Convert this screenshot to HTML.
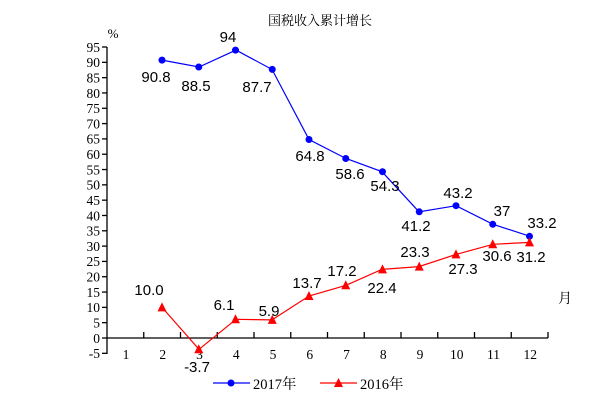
<!DOCTYPE html>
<html><head><meta charset="utf-8"><style>body{margin:0;background:#fff}</style></head><body>
<svg width="600" height="412" xmlns="http://www.w3.org/2000/svg" font-family="Liberation Serif, 'Noto Serif CJK SC', serif">
<text x="320" y="25" font-size="13" text-anchor="middle" font-family="'Noto Serif CJK SC', serif">国税收入累计增长</text>
<text x="113" y="38" font-size="13" text-anchor="middle">%</text>
<g stroke="#000" stroke-width="1.3">
<line x1="107" y1="47" x2="107" y2="354"/>
<line x1="107" y1="338" x2="548" y2="338"/>
<g id="yt"></g>
</g>
<g font-size="13.5" text-anchor="end" id="yl"></g>
<g font-size="13.5" text-anchor="middle" id="xl"></g>
<text x="565" y="303" font-size="14" text-anchor="middle" font-family="'Noto Serif CJK SC', serif">月</text>
<polyline fill="none" stroke="#00f" stroke-width="1.2" points="162,60.1 199,67.0 236,50.1 272,69.4 309,139.5 346,158.5 382,171.7 419,211.8 456,205.7 493,224.3 530,236.3"/>
<polyline fill="none" stroke="#f00" stroke-width="1.2" points="162,307.4 199,349.3 236,319.3 272,319.9 309,296.0 346,285.3 382,269.4 419,266.6 456,254.4 493,244.3 530,242.4"/>
<g fill="#00f" id="bd"></g>
<g fill="#f00" id="rd"></g>
<g font-family="Liberation Sans, sans-serif" font-size="15" text-anchor="middle">
<text x="156" y="82">90.8</text><text x="196" y="91">88.5</text><text x="228" y="42">94</text><text x="257" y="92">87.7</text>
<text x="310" y="161">64.8</text><text x="350" y="179">58.6</text><text x="385" y="191">54.3</text><text x="416" y="231">41.2</text>
<text x="458" y="198">43.2</text><text x="502" y="216">37</text><text x="542" y="228">33.2</text>
<text x="149" y="295">10.0</text><text x="197" y="372">-3.7</text><text x="224" y="310">6.1</text><text x="269" y="316">5.9</text>
<text x="307" y="288">13.7</text><text x="342" y="276">17.2</text><text x="382" y="293">22.4</text><text x="415" y="257">23.3</text>
<text x="463" y="274">27.3</text><text x="497" y="261">30.6</text><text x="531" y="262">31.2</text>
</g>
<line x1="213" y1="383" x2="250" y2="383" stroke="#00f" stroke-width="1.2"/><circle cx="231" cy="383" r="3.5" fill="#00f"/>
<text x="253" y="389" font-size="14.5">2017年</text>
<line x1="320" y1="383" x2="357" y2="383" stroke="#f00" stroke-width="1.2"/><polygon points="338.5,378 343,387 334,387" fill="#f00"/>
<text x="360" y="389" font-size="14.5">2016年</text>
<script>
var ns="http://www.w3.org/2000/svg";
function el(p,t,a,tx){var e=document.createElementNS(ns,t);for(var k in a)e.setAttribute(k,a[k]);if(tx!==undefined)e.textContent=tx;document.getElementById(p).appendChild(e);}
for(var v=-5;v<=95;v+=5){var y=338-v*3.063;el("yt","line",{x1:102,y1:y,x2:107,y2:y});el("yl","text",{x:100,y:y+4.8},v);}
for(var i=1;i<=12;i++){var x=107+i*36.75;el("yt","line",{x1:x,y1:332,x2:x,y2:338});el("xl","text",{x:126+(i-1)*36.75,y:359},i);}
var b=[60.1,67.0,50.1,69.4,139.5,158.5,171.7,211.8,205.7,224.3,236.3],r=[307.4,349.3,319.3,319.9,296.0,285.3,269.4,266.6,254.4,244.3,242.4];
for(var j=0;j<11;j++){var x=162+j*36.75;el("bd","circle",{cx:x,cy:b[j],r:3.5});el("rd","polygon",{points:x+","+(r[j]-5)+" "+(x+4.5)+","+(r[j]+4)+" "+(x-4.5)+","+(r[j]+4)});}
</script>
</svg>
</body></html>
